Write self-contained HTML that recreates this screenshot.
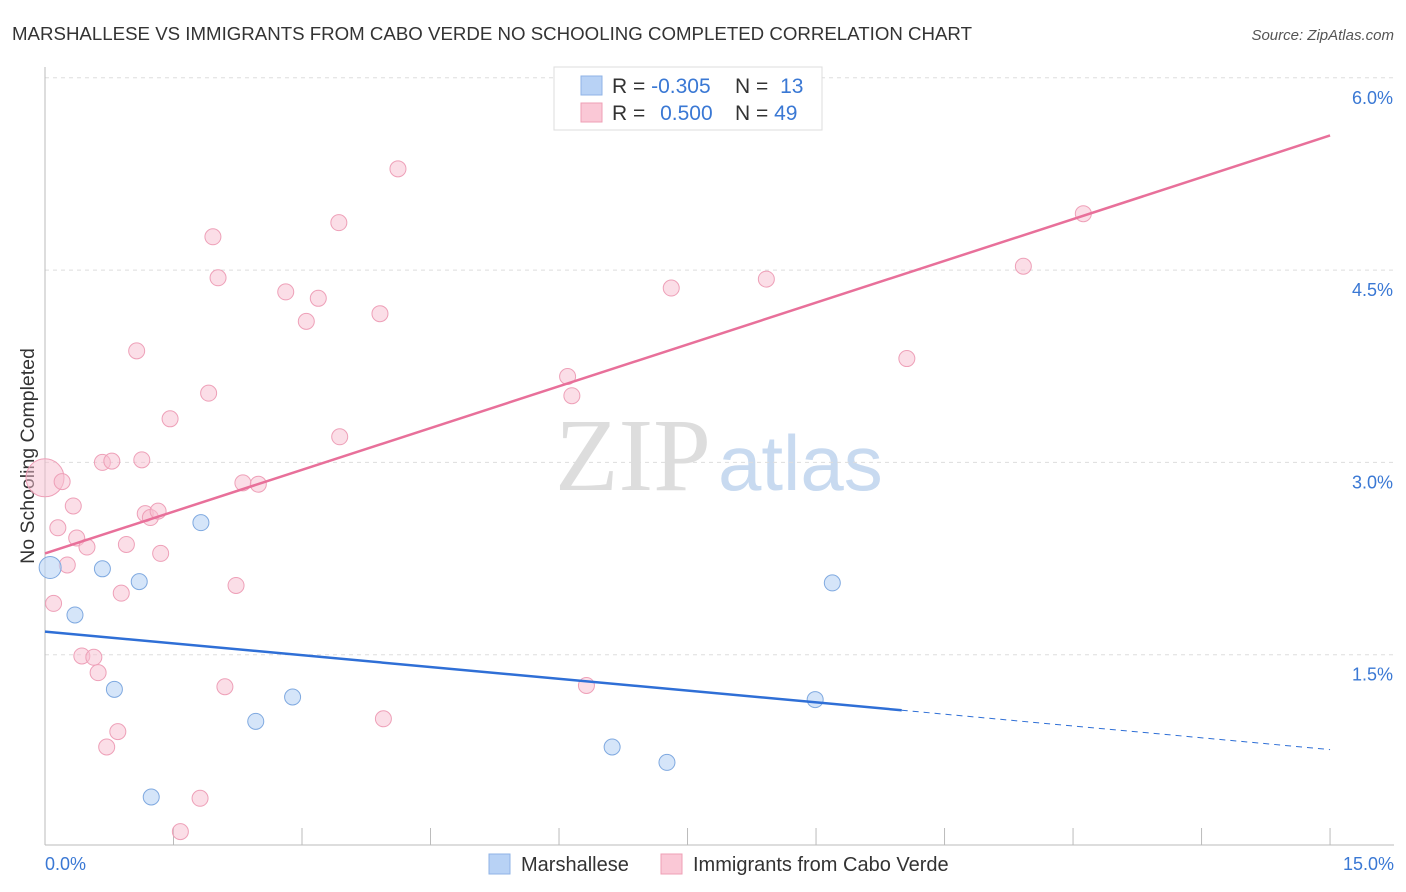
<!DOCTYPE html>
<html><head><meta charset="utf-8"><style>
body{margin:0;background:#fff;font-family:"Liberation Sans",sans-serif;}
svg{display:block}
</style></head><body>
<svg id="c" width="1406" height="892">
<text x="12" y="40" font-size="18" fill="#333" textLength="960" lengthAdjust="spacingAndGlyphs">MARSHALLESE VS IMMIGRANTS FROM CABO VERDE NO SCHOOLING COMPLETED CORRELATION CHART</text>
<text x="1394" y="40" font-size="15" fill="#555" font-style="italic" text-anchor="end">Source: ZipAtlas.com</text>
<text x="555" y="490" font-size="104" font-family="Liberation Serif" fill="#ddd">ZIP</text>
<text x="718" y="490" font-size="78" fill="#c8daf0">atlas</text>
<text transform="translate(34,456) rotate(-90)" font-size="19.5" fill="#333" text-anchor="middle">No Schooling Completed</text>
<g id="grid"></g><g id="axes"></g><g id="marks"></g>
<g>
<rect x="554" y="67" width="268" height="63" fill="#fff" stroke="#ddd"/>
<rect x="581" y="76" width="21" height="19" fill="#b8d2f5" stroke="#8fb3e6"/>
<rect x="581" y="103" width="21" height="19" fill="#fac8d6" stroke="#ef9fb5"/>
<text x="612" y="93" font-size="21" fill="#333">R = <tspan fill="#3a78d4">-0.305</tspan></text>
<text x="735" y="93" font-size="21" fill="#333">N = <tspan fill="#3a78d4" dx="6">13</tspan></text>
<text x="612" y="120" font-size="21" fill="#333">R = <tspan fill="#3a78d4" dx="9">0.500</tspan></text>
<text x="735" y="120" font-size="21" fill="#333">N = <tspan fill="#3a78d4">49</tspan></text>
</g>
<g>
<rect x="489" y="854" width="21" height="20" fill="#b8d2f5" stroke="#8fb3e6"/>
<text x="521" y="871" font-size="20" fill="#333">Marshallese</text>
<rect x="661" y="854" width="21" height="20" fill="#fac8d6" stroke="#ef9fb5"/>
<text x="693" y="871" font-size="20" fill="#333">Immigrants from Cabo Verde</text>
</g>
</svg>
<script>
const yTicks=[1.5,3.0,4.5,6.0];
const yTickLabels=["1.5%","3.0%","4.5%","6.0%"];
const xTicks=[0,1.5,3,4.5,6,7.5,9,10.5,12,13.5,15];
const blueX=[0.06,0.67,0.35,1.10,1.82,0.81,1.24,2.46,2.89,6.62,7.26,8.99,9.19];
const blueY=[2.18,2.17,1.81,2.07,2.53,1.23,0.39,0.98,1.17,0.78,0.66,1.15,2.06];
const pinkX=[0.0,0.2,0.15,0.33,0.1,0.26,0.37,0.49,0.67,0.78,1.07,1.13,1.46,1.17,1.23,1.32,0.95,1.35,0.89,0.43,0.57,0.62,0.72,0.85,1.58,1.81,2.10,2.23,1.91,1.96,2.02,2.31,2.49,2.81,3.05,3.19,3.43,3.44,3.91,3.95,4.12,6.10,6.15,6.32,7.31,8.42,10.06,11.42,12.12];
const pinkY=[2.88,2.85,2.49,2.66,1.90,2.20,2.41,2.34,3.00,3.01,3.87,3.02,3.34,2.60,2.57,2.62,2.36,2.29,1.98,1.49,1.48,1.36,0.78,0.90,0.12,0.38,1.25,2.04,3.54,4.76,4.44,2.84,2.83,4.33,4.10,4.28,4.87,3.20,4.16,1.00,5.29,3.67,3.52,1.26,4.36,4.43,3.81,4.53,4.94];
const pinkLine=[2.29,5.55];
const blueLine=[1.68,0.76];const blueSolidEnd=10.0;
const X=v=>45+v*85.67, Y=v=>847-v*128.2;
const NS="http://www.w3.org/2000/svg";
function mk(p,t,a){const e=document.createElementNS(NS,t);for(const k in a)e.setAttribute(k,a[k]);document.getElementById(p).appendChild(e);return e;}
yTicks.forEach((t,i)=>{
 const g=mk('grid','line',{x1:45,x2:1394,y1:Y(t),y2:Y(t),stroke:'#ddd','stroke-dasharray':'4,4'});
 
 
 const l=mk('axes','text',{x:1393,y:Y(t)+26,'font-size':18,fill:'#3a78d4','text-anchor':'end'});
 l.textContent=yTickLabels[i];
 
 
});
const ax=mk('axes','line',{x1:45,x2:1394,y1:845,y2:845,stroke:'#bbb'});


const ay=mk('axes','line',{x1:45,x2:45,y1:67,y2:845,stroke:'#bbb'});


xTicks.forEach(t=>{const e=mk('axes','line',{x1:X(t),x2:X(t),y1:828,y2:845,stroke:'#bbb'});
 
 });
[[0,"0.0%",'start',45],[15,"15.0%",'end',1394]].forEach(([v,s,a,x])=>{const e=mk('axes','text',{x:x,y:870,'font-size':18,fill:'#3a78d4','text-anchor':a});e.textContent=s;
 
 });
pinkX.forEach((x,i)=>{const e=mk('marks','circle',{cx:X(x),cy:Y(pinkY[i]),r:i==0?19:8,fill:'rgba(248,190,208,0.5)',stroke:'#eea0b8'});
 
 });
blueX.forEach((x,i)=>{const e=mk('marks','circle',{cx:X(x),cy:Y(blueY[i]),r:i==0?11:8,fill:'rgba(185,212,245,0.6)',stroke:'#7fa9e0'});
 
 });
const bAt=x=>blueLine[0]+(blueLine[1]-blueLine[0])*x/15;
let e=mk('marks','line',{x1:X(0),y1:Y(pinkLine[0]),x2:X(15),y2:Y(pinkLine[1]),stroke:'#e8709a','stroke-width':2.5});


e=mk('marks','line',{x1:X(0),y1:Y(bAt(0)),x2:X(blueSolidEnd),y2:Y(bAt(blueSolidEnd)),stroke:'#2f6fd6','stroke-width':2.5});


e=mk('marks','line',{x1:X(blueSolidEnd),y1:Y(bAt(blueSolidEnd)),x2:X(15),y2:Y(bAt(15)),stroke:'#2f6fd6','stroke-width':1,'stroke-dasharray':'6,5'});


</script>
</body></html>
